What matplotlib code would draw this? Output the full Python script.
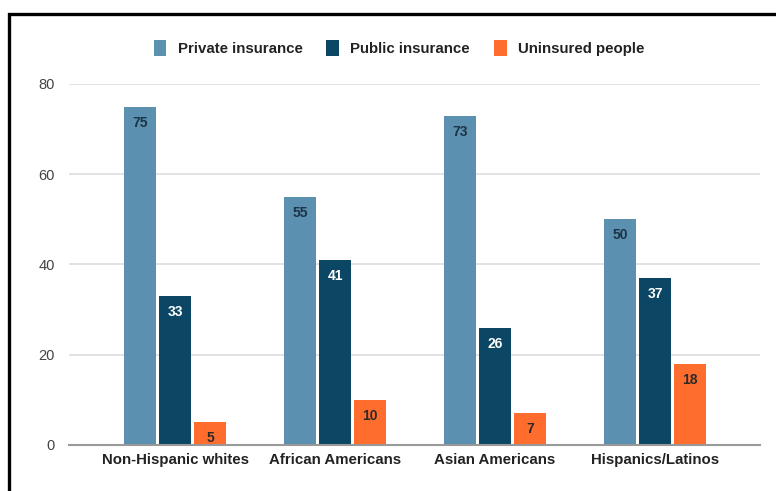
import matplotlib
matplotlib.use("Agg")
import matplotlib.pyplot as plt
from matplotlib.patches import Rectangle
import numpy as np

categories = ["Non-Hispanic whites", "African Americans", "Asian Americans", "Hispanics/Latinos"]
series_names = ["Private insurance", "Public insurance", "Uninsured people"]
private = [75, 55, 73, 50]
public = [33, 41, 26, 37]
uninsured = [5, 10, 7, 18]
yticks = [0, 20, 40, 60, 80]

colors = ["#5b90b0", "#0b4664", "#ff6d2e"]
label_colors = ["#1d3447", "#ffffff", "#2a2a2a"]

plt.rcParams['font.family'] = ['Liberation Sans', 'DejaVu Sans']

W, H = 776, 491
fig = plt.figure(figsize=(W / 100, H / 100), dpi=100)
ax = fig.add_axes([69 / W, 1 - 445 / H, (760 - 69) / W, (445 - 84) / H])

x = np.arange(len(categories))
width = 0.2
step = 0.219
data = [private, public, uninsured]
for k, (vals, name) in enumerate(zip(data, series_names)):
    pos = x + (k - 1) * step
    bars = ax.bar(pos, vals, width=width, color=colors[k], label=name, zorder=3)
    for b, v in zip(bars, vals):
        ax.annotate(str(v), (b.get_x() + b.get_width() / 2, v), xytext=(0, -6.5),
                    textcoords="offset points", ha="center", va="top",
                    fontsize=10, fontweight="bold", color=label_colors[k], zorder=4)

ax.set_xlim((69 - 175) / 160, (760 - 175) / 160)
ax.set_ylim(0, 80)
ax.set_yticks(yticks)
ax.set_yticklabels([str(t) for t in yticks], fontsize=10.5, color="#444444")
ax.set_xticks(x)
ax.set_xticklabels(categories, fontsize=10.8, fontweight="bold", color="#222222")
ax.tick_params(axis="both", length=0)
ax.tick_params(axis="y", pad=10)
ax.tick_params(axis="x", pad=6)
ax.grid(axis="y", color="#dddddd", linewidth=1.2, zorder=0)
for s in ["top", "right", "left"]:
    ax.spines[s].set_visible(False)
ax.spines["bottom"].set_color("#999999")
ax.spines["bottom"].set_linewidth(1.5)
ax.spines["bottom"].set_zorder(5)

leg = fig.legend(loc="center", bbox_to_anchor=(399 / W, 1 - 48 / H), ncol=3, frameon=False,
                 fontsize=10.8, handlelength=0.85, handleheight=1.2, columnspacing=1.6,
                 handletextpad=0.75)
for t in leg.get_texts():
    t.set_color("#222222")
    t.set_fontweight("bold")

border = Rectangle((9 / W, -0.1), 1.2, 1 - 14 / H + 0.1, transform=fig.transFigure,
                   fill=False, edgecolor="black", linewidth=2.4)
fig.add_artist(border)

fig.savefig("out.png", dpi=100)
